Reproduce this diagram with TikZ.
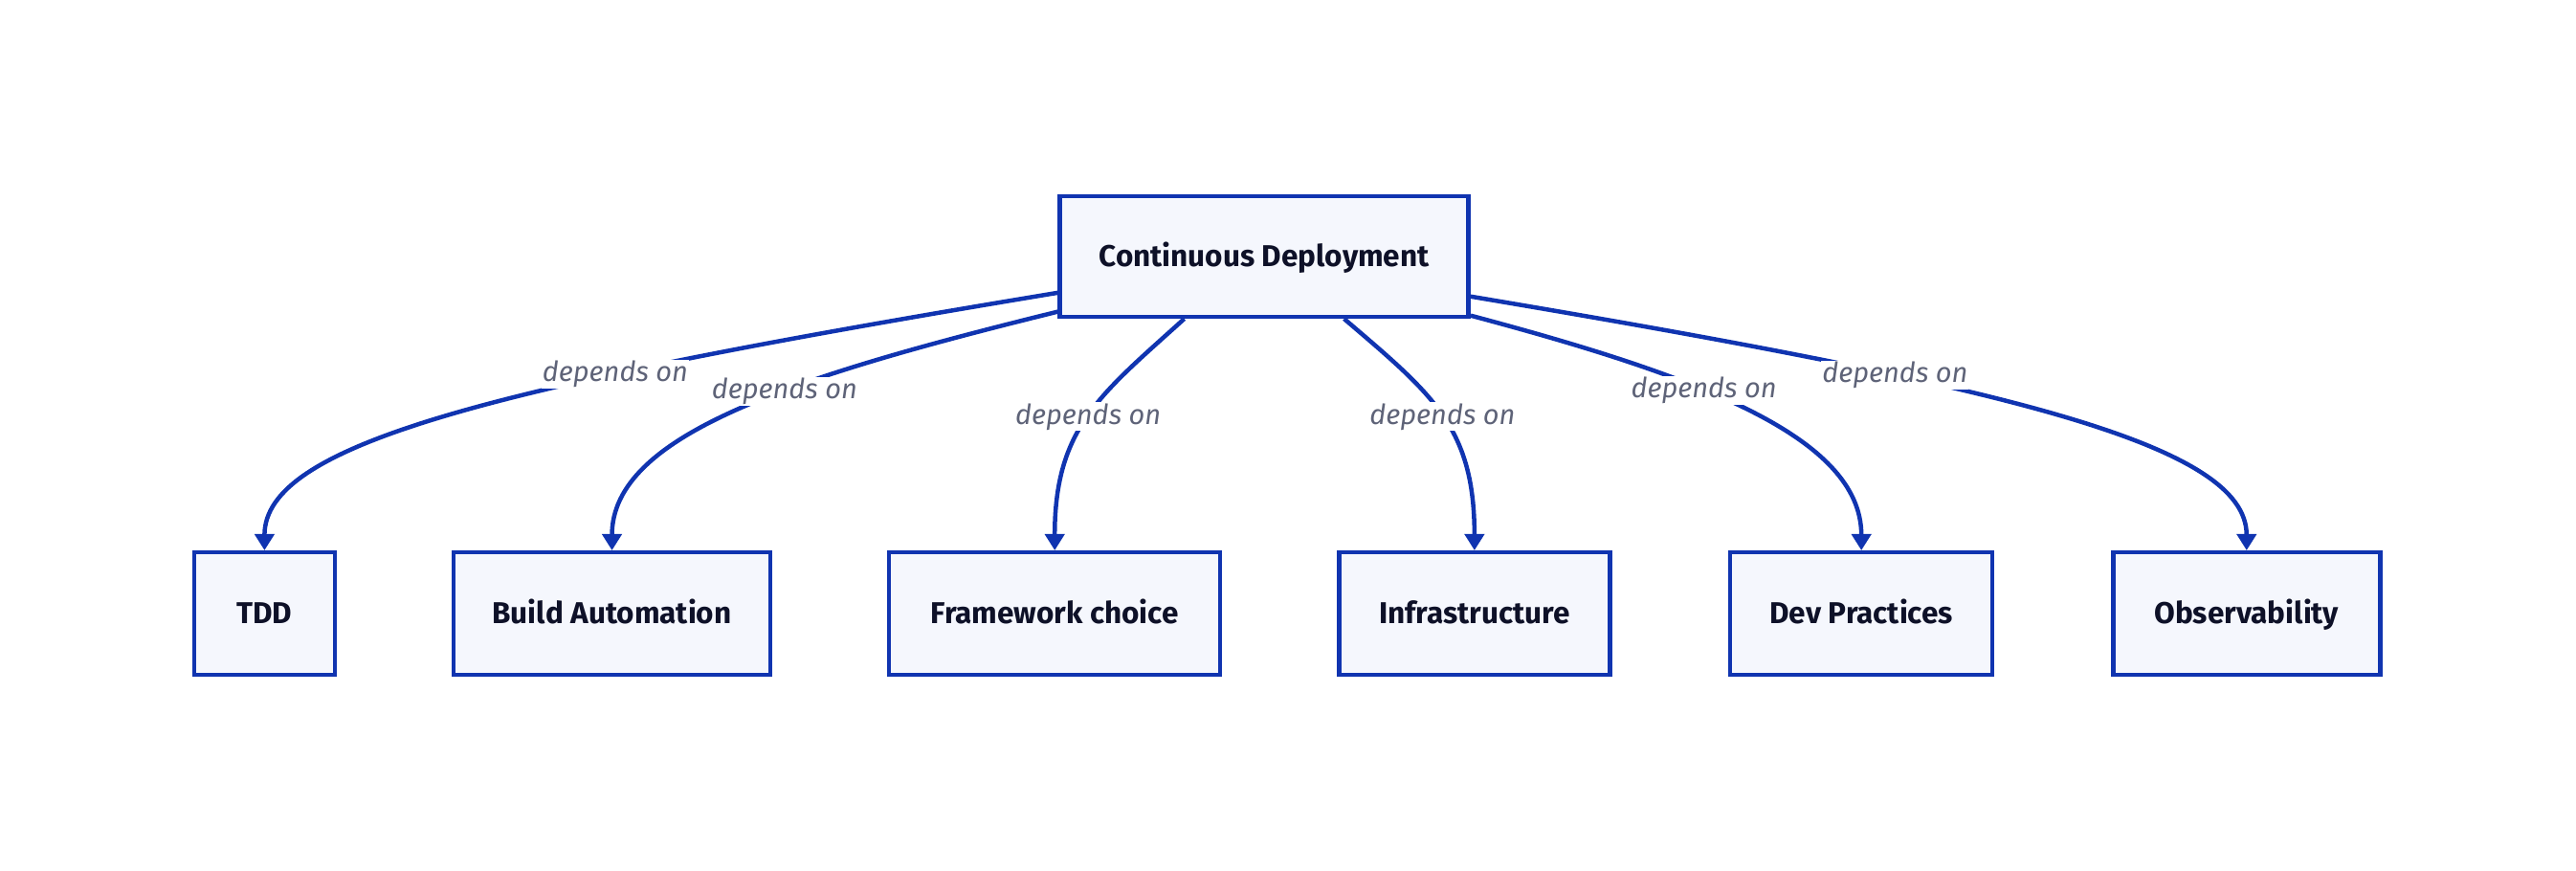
\documentclass[tikz,border=0pt]{standalone}
\usepackage{fontspec}
\setmainfont{Fira Sans}
\usetikzlibrary{arrows.meta}
\definecolor{edgeblue}{HTML}{1034B0}
\definecolor{boxfill}{HTML}{F5F7FD}
\definecolor{ink}{HTML}{0E1128}
\definecolor{labelgray}{HTML}{5E6378}

\begin{document}
\begin{tikzpicture}[x=1.7168pt, y=-1.7168pt, >={Triangle[width=20pt, length=17pt]},
    box/.style={draw=edgeblue, line width=4.5pt, fill=boxfill, text=ink, inner sep=0pt,
        minimum height=128pt, text height=21.5pt, text depth=0pt,
        font=\fontsize{31.5}{36}\selectfont\bfseries},
    dep/.style={->, draw=edgeblue, line width=4.5pt},
    lbl/.style={fill=white, text=labelgray, inner sep=1pt, font=\fontsize{29}{34}\selectfont\itshape}]
    \useasboundingbox (0, 0) rectangle (1568, 530);

    \node[box, minimum width=427pt, minimum height=126pt] (cd) at (769.5, 156) {Continuous Deployment};

    \node[box, minimum width=147pt] (tdd) at (161, 373.5) {TDD};
    \node[box, minimum width=331pt] (build) at (372.5, 373.5) {Build Automation};
    \node[box, minimum width=346pt] (framework) at (642, 373.5) {Framework choice};
    \node[box, minimum width=283pt] (infra) at (897.5, 373.5) {Infrastructure};
    \node[box, minimum width=274pt] (devprac) at (1133, 373.5) {Dev Practices};
    \node[box, minimum width=279pt] (observ) at (1367.5, 373.5) {Observability};

    \draw[dep] (cd.190.4) .. controls (300, 235) and (161, 270) .. (tdd.north)
        node[lbl, pos=0.32] {depends on};
    \draw[dep] (cd.195.6) .. controls (480, 230) and (372.5, 265) .. (build.north)
        node[lbl, pos=0.4] {depends on};
    \draw[dep] (cd.218) .. controls (670, 240) and (642, 260) .. (framework.north)
        node[lbl, pos=0.5] {depends on};
    \draw[dep] (cd.322) .. controls (872, 240) and (897.5, 260) .. (infra.north)
        node[lbl, pos=0.5] {depends on};
    \draw[dep] (cd.344) .. controls (1030, 228) and (1133, 265) .. (devprac.north)
        node[lbl, pos=0.4] {depends on};
    \draw[dep] (cd.349.6) .. controls (1220, 235) and (1367.5, 270) .. (observ.north)
        node[lbl, pos=0.32] {depends on};
\end{tikzpicture}
\end{document}
